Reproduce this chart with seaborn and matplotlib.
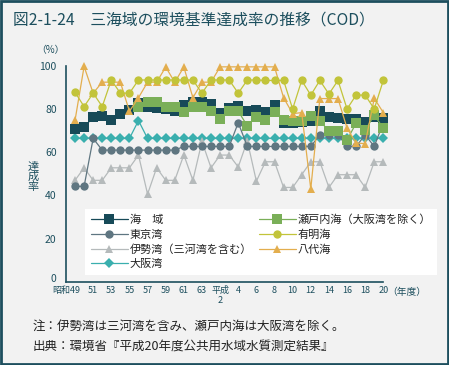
# -*- coding: utf-8 -*-
import numpy as np
import pandas as pd
import seaborn as sns
from matplotlib import pyplot as plt
from matplotlib.patches import Rectangle
from matplotlib import transforms

## Données, années 昭和49 (1974) -> 平成20 (2008)
annees = list(range(1974, 2009))
labels_x = ["昭和49", "51", "53", "55", "57", "59", "61", "63", "平成\n2",
            "4", "6", "8", "10", "12", "14", "16", "18", "20"]

kaiiki = [70.9, 71.8, 76.2, 76.8, 75.0, 77.8, 79.8, 82.7, 81.2, 80.3, 80.0, 79.3,
          81.8, 83.1, 83.3, 82.5, 78.3, 80.7, 81.5, 79.3, 79.6, 78.5, 81.7, 73.5,
          73.5, 74.0, 74.7, 79.3, 76.3, 75.9, 75.5, 75.6, 74.1, 76.5, 75.7]
seto = [np.nan, np.nan, np.nan, np.nan, np.nan, np.nan, np.nan,
        80.8, 83.4, 83.4, 81.0, 81.0, 78.7, 81.0, 81.0, 79.0, 75.2, 79.0, 79.0,
        72.3, 76.5, 74.8, 78.8, 74.8, 74.7, 74.7, 76.7, 74.7, 69.7, 69.8, 65.7,
        73.5, 70.2, 77.2, 71.2]
tokyo = [44.2, 44.2, 66.4, 61.0, 61.0, 61.0, 61.0, 61.0, 61.0, 61.0, 61.0, 61.0,
         62.7, 62.7, 62.7, 62.7, 62.7, 62.7, 73.7, 62.7, 62.7, 62.7, 62.7, 62.7,
         62.7, 62.7, 62.7, 68.1, 68.1, 68.1, 62.7, 62.7, 68.1, 62.7, 73.7]
ariake = [87.8, 81.2, 87.4, 81.2, 93.5, 87.4, 87.4, 93.5, 93.5, 93.5, 93.5, 93.5,
          93.5, 93.5, 87.4, 93.5, 93.5, 93.5, 87.4, 93.5, 93.5, 93.3, 93.3, 93.3,
          80.1, 93.3, 86.5, 93.3, 87.0, 93.3, 80.1, 86.5, 86.5, 80.1, 93.3]
ise = [47.0, 52.8, 47.0, 47.0, 52.8, 52.8, 52.8, 58.7, 40.6, 52.8, 47.0, 47.0,
       58.8, 47.0, 65.0, 52.8, 58.7, 58.7, 53.2, 65.3, 46.6, 55.6, 55.6, 43.7,
       43.7, 49.6, 55.6, 55.6, 43.7, 49.6, 49.6, 49.6, 43.7, 55.6, 55.6]
yatsushiro = [74.8, 99.8, 87.4, 92.5, 92.5, 92.5, 79.0, 85.3, 92.5, 92.5, 99.5, 92.5,
              99.5, 85.3, 92.5, 92.5, 99.6, 99.6, 99.6, 99.6, 99.6, 99.6, 99.6, 85.3,
              77.9, 78.4, 43.0, 84.9, 84.9, 84.9, 71.2, 64.3, 64.0, 85.0, 78.4]
osaka = [66.4, 66.4, 66.4, 66.4, 66.4, 66.4, 66.4, 74.7, 66.4, 66.4, 66.4, 66.4,
         66.4, 66.4, 66.4, 66.4, 66.4, 66.4, 66.4, 66.4, 66.4, 66.4, 66.4, 66.4,
         66.4, 66.4, 66.4, 66.4, 66.4, 66.4, 66.4, 66.4, 66.4, 66.4, 66.4]

## Styles : (nom, données, couleur, marqueur, taille)
series = [
    ("大阪湾", osaka, "#3aafae", "D", 5.0),
    ("伊勢湾（三河湾を含む）", ise, "#b5babb", "^", 5.5),
    ("東京湾", tokyo, "#5f7681", "o", 6.0),
    ("海　域", kaiiki, "#174a58", "s", 6.5),
    ("瀬戸内海（大阪湾を除く）", seto, "#7aaf58", "s", 6.5),
    ("八代海", yatsushiro, "#e3ae4e", "^", 5.5),
    ("有明海", ariake, "#c2c43a", "o", 6.0),
]
ordre_legende = ["海　域", "東京湾", "伊勢湾（三河湾を含む）", "大阪湾",
                 "瀬戸内海（大阪湾を除く）", "有明海", "八代海"]

sns.set_style("white")
plt.rcParams['font.family'] = ['Noto Sans CJK JP', 'DejaVu Sans']

bg = "#f2f2f2"
teal = "#1d4f5e"

fig = plt.figure(figsize=(4.49, 3.65), dpi=100, facecolor=bg)
ax = fig.add_axes([0.1463, 0.2282, 0.7074, 0.591])
ax.set_facecolor(bg)

x_idx = np.arange(len(annees))
for nom, vals, couleur, marqueur, taille in series:
    sns.lineplot(x=x_idx, y=vals, ax=ax, color=couleur, marker=marqueur,
                 markersize=taille, markeredgewidth=0, linewidth=0.9,
                 errorbar=None, label=nom, clip_on=False)

ax.set_xlim(-1.03, 34)
ax.set_ylim(0, 100)
ax.set_yticks([0, 20, 40, 60, 80, 100])
ax.set_xticks(x_idx, minor=True)
ax.set_xticks(x_idx[::2])
ax.set_xticklabels(labels_x)
ax.tick_params(axis='x', which='both', direction='in', length=4, width=1,
               color=teal, labelsize=6.5, labelcolor=teal, pad=3)
ax.tick_params(axis='y', direction='out', length=5, width=1, color=teal,
               labelsize=7.5, labelcolor=teal, pad=1.5)
# 昭和49 : décalé à gauche comme dans l'original
premier = ax.get_xticklabels()[0]
premier.set_horizontalalignment('right')
premier.set_transform(premier.get_transform() +
                      transforms.ScaledTranslation(5 / 100, 0, fig.dpi_scale_trans))
# le "0" est un peu au-dessus de l'axe
zero = ax.get_yticklabels()[0]
zero.set_transform(zero.get_transform() +
                   transforms.ScaledTranslation(0, 4 / 100, fig.dpi_scale_trans))
ax.set_xlabel("")
ax.set_ylabel("")
for s in ["top", "right"]:
    ax.spines[s].set_visible(False)
for s in ["left", "bottom"]:
    ax.spines[s].set_color(teal)
    ax.spines[s].set_linewidth(1.2)

## Légende
handles, labels = ax.get_legend_handles_labels()
h_dict = dict(zip(labels, handles))
ax.get_legend().remove()
leg = fig.legend([h_dict[n] for n in ordre_legende], ordre_legende, ncol=2,
                 loc='upper left', bbox_to_anchor=(0.178, 0.442),
                 frameon=True, facecolor='white', edgecolor='none', framealpha=1,
                 fancybox=False, fontsize=8, handlelength=3.3, handletextpad=0.2,
                 columnspacing=0.6, labelspacing=0.4, borderpad=0.5)
for t in leg.get_texts():
    t.set_color("#222222")

## Textes
fig.text(13 / 449, 1 - 20 / 365, "図2-1-24　三海域の環境基準達成率の推移（COD）",
         fontsize=11.3, color=teal, va='center', ha='left')
fig.text(50 / 449, 1 - 50 / 365, "（%）", fontsize=7, color=teal, va='center', ha='center')
fig.text(33 / 449, 1 - 177 / 365, "達\n成\n率", fontsize=8, color=teal,
         va='center', ha='center', linespacing=1.0)
fig.text(407 / 449, 1 - 292 / 365, "（年度）", fontsize=7, color=teal, va='center', ha='center')
fig.text(33 / 449, 1 - 326 / 365, "注：伊勢湾は三河湾を含み、瀬戸内海は大阪湾を除く。",
         fontsize=9, color="#222222", va='center', ha='left')
fig.text(33 / 449, 1 - 346 / 365, "出典：環境省『平成20年度公共用水域水質測定結果』",
         fontsize=9, color="#222222", va='center', ha='left')

## Cadre
fig.patches.append(Rectangle((0.002, 0.003), 0.996, 0.994, transform=fig.transFigure,
                             fill=False, edgecolor=teal, linewidth=2))

fig.savefig("out.png", dpi=100, facecolor=bg)
